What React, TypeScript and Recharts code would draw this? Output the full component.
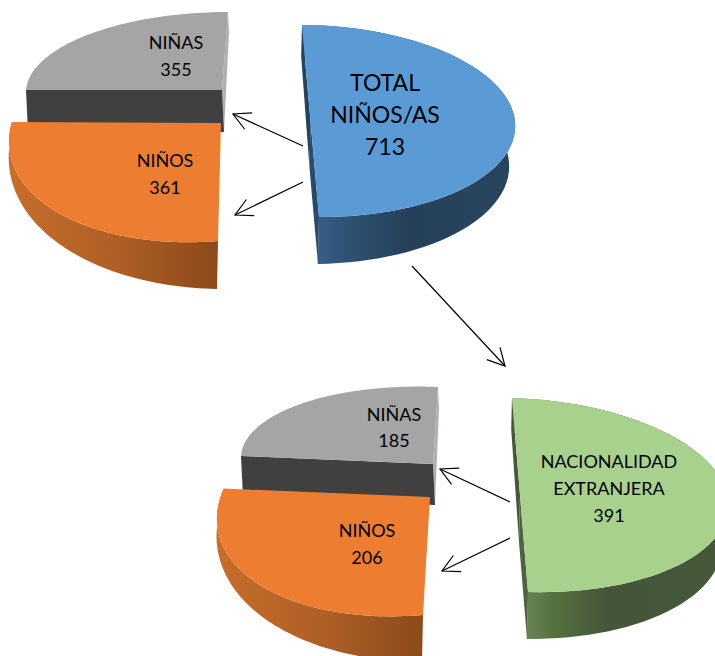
import React from 'react';
import { PieChart, Pie } from 'recharts';

// values
const totalNames = ['TOTAL\nNIÑOS/AS'];
const totalValues = [713];
const allChildrenNames = ['NIÑAS', 'NIÑOS'];
const allChildrenValues = [355, 361];
const foreignNames = ['NACIONALIDAD\nEXTRANJERA'];
const foreignValues = [391];
const foreignChildrenNames = ['NIÑAS', 'NIÑOS'];
const foreignChildrenValues = [185, 206];

const totalData = totalNames.map((name, i) => ({ id: 'total', name, value: totalValues[i] }));
const allChildrenData = allChildrenNames.map((name, i) => ({
  id: i === 0 ? 'girls' : 'boys',
  name,
  value: allChildrenValues[i],
}));
const foreignData = foreignNames.map((name, i) => ({ id: 'foreign', name, value: foreignValues[i] }));
const foreignChildrenData = foreignChildrenNames.map((name, i) => ({
  id: i === 0 ? 'girls2' : 'boys2',
  name,
  value: foreignChildrenValues[i],
}));

type Vec = [number, number];

interface SliceLook {
  offset?: Vec; // explode offset from the pie centre
  u: Vec; // ellipse vector at angle 0, for outerRadius 100
  v: Vec; // ellipse vector at angle 270
  depth: Vec;
  fadeFrom?: number; // share of the depth at the start of the arc
  pull?: number; // lower rim drawn a bit narrower than the top one
  pivot?: number;
  stretch?: number;
  top: string;
  wall?: string;
  startFace?: string;
  endFace?: string;
  labelAt: Vec;
  lineGap: number;
  fontSize: number;
}

const LOOKS: Record<string, SliceLook> = {
  total: {
    u: [204.5, 1], v: [8.5, 96], depth: [-1, 47], fadeFrom: 0.7, pull: 0.025,
    top: '#5B9BD5', wall: 'url(#wallBlue)', startFace: '#25435F', endFace: '#284A6B',
    labelAt: [385, 83], lineGap: 32, fontSize: 23,
  },
  girls: {
    u: [196, 0], v: [-6, 78], depth: [2, 42], fadeFrom: 0.5, pivot: 90, stretch: 1.0084,
    top: '#A5A5A5', startFace: '#B0B0B0', endFace: '#404040',
    labelAt: [176, 43], lineGap: 27, fontSize: 18,
  },
  boys: {
    offset: [-1, 33], u: [212, -17], v: [-3, 118], depth: [-1, 48], fadeFrom: 0.25, pivot: 270, stretch: 1.088,
    top: '#ED7D31', wall: 'url(#wallOrange)',
    labelAt: [165, 161], lineGap: 27, fontSize: 18,
  },
  foreign: {
    u: [208, 6], v: [8, 97], depth: [-1, 47], fadeFrom: 0.7, pull: 0.025,
    top: '#A9D18E', wall: 'url(#wallGreen)', startFace: '#46583A', endFace: '#4E6340',
    labelAt: [609, 462], lineGap: 27, fontSize: 18,
  },
  girls2: {
    u: [192, 8], v: [-5, 77], depth: [2, 41], fadeFrom: 0.5, pivot: 90, stretch: 1.056,
    top: '#A5A5A5', startFace: '#B0B0B0', endFace: '#404040',
    labelAt: [394, 415], lineGap: 26, fontSize: 18,
  },
  boys2: {
    offset: [-3, 33], u: [213, -18], v: [-7, 118], depth: [-1, 47], fadeFrom: 0.25, pivot: 270, stretch: 1.083,
    top: '#ED7D31', wall: 'url(#wallOrange)',
    labelAt: [367, 531], lineGap: 27, fontSize: 18,
  },
};

// from, to, for the connecting arrows
const ARROWS: [number, number, number, number][] = [
  [303, 146, 233, 114],
  [303, 182, 235, 215],
  [412, 266, 505, 366],
  [510, 502, 440, 469],
  [510, 538, 442, 571],
];

const RAD = Math.PI / 180;

const toPath = (pts: Vec[]) => pts.map((p, i) => `${i ? 'L' : 'M'}${p[0].toFixed(1)} ${p[1].toFixed(1)}`).join(' ') + ' Z';

// the sector drawn as a tilted disc with some thickness
const Slice3D = (props: any) => {
  const id = props.id ?? props.payload?.id;
  const look = LOOKS[id];
  const scale = props.outerRadius / 100;
  const cx = props.cx + (look.offset?.[0] ?? 0);
  const cy = props.cy + (look.offset?.[1] ?? 0);
  const pivot = look.pivot ?? 0;
  const stretch = look.stretch ?? 1;
  const warp = (a: number) => pivot + (a - pivot) * stretch;
  const a0 = warp(props.startAngle);
  const a1 = warp(props.endAngle);

  const at = (a: number): Vec => {
    const c = Math.cos(a * RAD) * scale;
    const s = Math.sin(a * RAD) * scale;
    return [cx + look.u[0] * c - look.v[0] * s, cy + look.u[1] * c - look.v[1] * s];
  };
  const down = (p: Vec, f = 1): Vec => [p[0] + look.depth[0] * f, p[1] + look.depth[1] * f];

  const steps = 60;
  const rim: Vec[] = [];
  const under: Vec[] = [];
  const from = look.fadeFrom ?? 1;
  const pull = look.pull ?? 0;
  for (let i = 0; i <= steps; i++) {
    const t = i / steps;
    const p = at(a0 + (a1 - a0) * t);
    rim.push(p);
    const q = down(p, from + (1 - from) * t);
    under.push([q[0] - (p[0] - cx) * pull, q[1]]);
  }
  const centre: Vec = [cx, cy];
  const first = rim[0];
  const last = rim[steps];

  return (
    <g>
      {look.wall && <path d={toPath([...rim, ...under.slice().reverse()])} fill={look.wall} />}
      {look.startFace && <path d={toPath([first, centre, down(centre), down(first, from)])} fill={look.startFace} />}
      {look.endFace && <path d={toPath([centre, last, down(last), down(centre)])} fill={look.endFace} />}
      <path d={toPath([centre, ...rim])} fill={look.top} />
    </g>
  );
};

const SliceLabel = (props: any) => {
  const id = props.id ?? props.payload?.id;
  const look = LOOKS[id];
  const lines = [...String(props.name).split('\n'), String(props.value)];
  return (
    <text textAnchor="middle" fontFamily="Lato" fontSize={look.fontSize} fill="#000">
      {lines.map((line, i) => (
        <tspan key={i} x={look.labelAt[0]} y={look.labelAt[1] + i * look.lineGap} dy="0.35em">
          {line}
        </tspan>
      ))}
    </text>
  );
};

const App: React.FC = () => {
  return (
    <div style={{ position: 'absolute', left: 0, top: 0, width: 715, height: 656 }}>
      <PieChart width={715} height={656} margin={{ top: 0, right: 0, bottom: 0, left: 0 }}>
        <defs>
          <linearGradient id="wallBlue" x1="0" y1="0" x2="1" y2="0">
            <stop offset="0%" stopColor="#3B6690" />
            <stop offset="20%" stopColor="#2F5375" />
            <stop offset="50%" stopColor="#264059" />
            <stop offset="100%" stopColor="#284560" />
          </linearGradient>
          <linearGradient id="wallOrange" x1="0" y1="0" x2="1" y2="0">
            <stop offset="0%" stopColor="#C76E2B" />
            <stop offset="50%" stopColor="#AF6026" />
            <stop offset="100%" stopColor="#8C4A1A" />
          </linearGradient>
          <linearGradient id="wallGreen" x1="0" y1="0" x2="1" y2="0">
            <stop offset="0%" stopColor="#75915F" />
            <stop offset="20%" stopColor="#55703F" />
            <stop offset="45%" stopColor="#44553A" />
            <stop offset="100%" stopColor="#46593A" />
          </linearGradient>
          <marker id="openHead" markerUnits="userSpaceOnUse" markerWidth="24" markerHeight="24" refX="20" refY="12" orient="auto">
            <path d="M3 3 L20 12 L3 21" fill="none" stroke="#000" strokeWidth={1.2} />
          </marker>
        </defs>
        <Pie
          data={allChildrenData}
          dataKey="value"
          cx={222}
          cy={90}
          outerRadius={100}
          startAngle={90}
          endAngle={270}
          shape={Slice3D}
          label={SliceLabel}
          labelLine={false}
          isAnimationActive={false}
        />
        <Pie
          data={totalData}
          dataKey="value"
          cx={310.5}
          cy={121}
          outerRadius={100}
          startAngle={90}
          endAngle={-90}
          shape={Slice3D}
          label={SliceLabel}
          labelLine={false}
          isAnimationActive={false}
        />
        <Pie
          data={foreignChildrenData}
          dataKey="value"
          cx={433}
          cy={464}
          outerRadius={100}
          startAngle={90}
          endAngle={270}
          shape={Slice3D}
          label={SliceLabel}
          labelLine={false}
          isAnimationActive={false}
        />
        <Pie
          data={foreignData}
          dataKey="value"
          cx={520}
          cy={495}
          outerRadius={100}
          startAngle={90}
          endAngle={-90}
          shape={Slice3D}
          label={SliceLabel}
          labelLine={false}
          isAnimationActive={false}
        />
        {ARROWS.map((a, i) => (
          <line key={i} x1={a[0]} y1={a[1]} x2={a[2]} y2={a[3]} stroke="#000" strokeWidth={1.2} markerEnd="url(#openHead)" />
        ))}
      </PieChart>
    </div>
  );
};

export default App;
